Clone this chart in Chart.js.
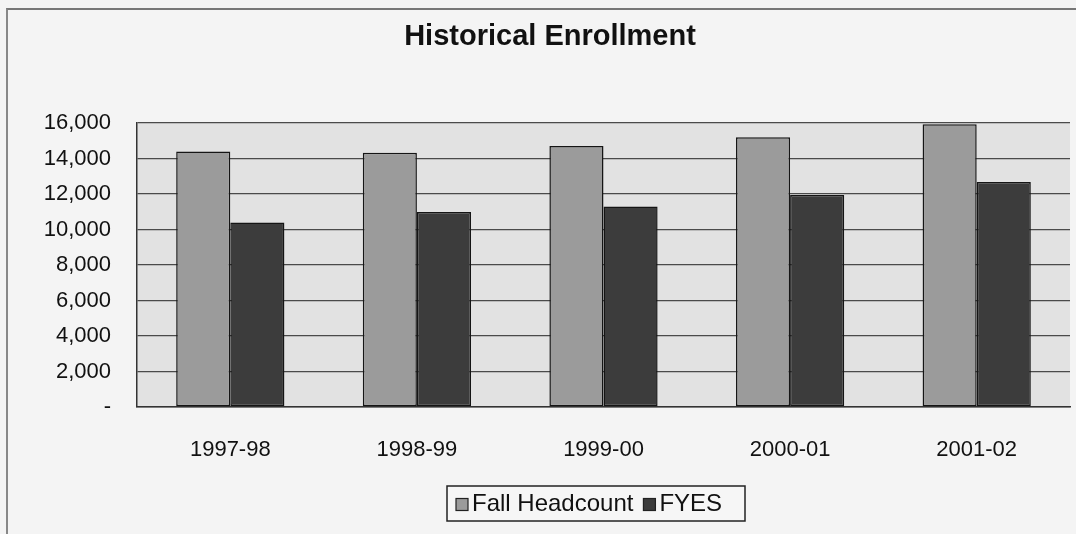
<!DOCTYPE html>
<html>
<head>
<meta charset="utf-8">
<script src="https://cdn.jsdelivr.net/npm/chart.js@4.4.1/dist/chart.umd.min.js"></script>
<style>
  html, body { margin: 0; padding: 0; background: #f4f4f4; }
  #wrap { position: relative; width: 1076px; height: 534px; }
  #frame { position: absolute; left: 6px; top: 8px; right: 0; bottom: 0;
           border-top: 2px solid #777; border-left: 2px solid #888; }
  canvas { position: absolute; left: 0; top: 0; }
</style>
</head>
<body>
<div id="wrap">
  <div id="frame"></div>
  <canvas id="enrollChart" width="1076" height="534"></canvas>
</div>
<script>
// data
const years = ['1997-98', '1998-99', '1999-00', '2000-01', '2001-02'];
const fallHeadcount = [14400, 14330, 14700, 15200, 15930];
const fyes = [10400, 10980, 11300, 11950, 12680];
const chartTitle = 'Historical Enrollment';

const fallColor = '#9b9b9b';
const fyesColor = '#3c3c3c';
const fontFam = '"Liberation Sans", Arial, sans-serif';

// plot background + title + boxed legend
const decorPlugin = {
  id: 'decor',
  beforeDraw(chart) {
    const ctx = chart.ctx;
    const a = chart.chartArea;
    ctx.save();
    ctx.fillStyle = '#e2e2e2';
    ctx.fillRect(a.left, a.top, a.right - a.left, a.bottom - a.top);
    ctx.restore();
  },
  afterDraw(chart) {
    const ctx = chart.ctx;
    ctx.save();
    // title
    ctx.fillStyle = '#111';
    ctx.font = 'bold 29px ' + fontFam;
    ctx.textAlign = 'center';
    ctx.textBaseline = 'middle';
    ctx.fillText(chartTitle, 550, 37);

    // legend
    const bx = 447, by = 486, bw = 298, bh = 35;
    ctx.fillStyle = '#f6f6f6';
    ctx.fillRect(bx, by, bw, bh);
    ctx.strokeStyle = '#222';
    ctx.lineWidth = 1.5;
    ctx.strokeRect(bx, by, bw, bh);

    ctx.font = '24px ' + fontFam;
    ctx.textAlign = 'left';
    let x = bx + 9;
    const cy = by + bh / 2 + 1;
    chart.data.datasets.forEach(ds => {
      ctx.fillStyle = ds.backgroundColor;
      ctx.fillRect(x, cy - 6, 12, 12);
      ctx.strokeStyle = '#222';
      ctx.lineWidth = 1.2;
      ctx.strokeRect(x, cy - 6, 12, 12);
      ctx.fillStyle = '#111';
      ctx.fillText(ds.label, x + 16, cy);
      x += 16 + ctx.measureText(ds.label).width + 10;
    });
    ctx.restore();
  }
};

new Chart(document.getElementById('enrollChart').getContext('2d'), {
  type: 'bar',
  data: {
    labels: years,
    datasets: [
      {
        label: 'Fall Headcount',
        data: fallHeadcount,
        backgroundColor: fallColor,
        borderColor: '#151515',
        borderWidth: 1.5,
        borderSkipped: false,
        categoryPercentage: 0.58,
        barPercentage: 1.0
      },
      {
        label: 'FYES',
        data: fyes,
        backgroundColor: fyesColor,
        borderColor: '#151515',
        borderWidth: 1.5,
        borderSkipped: false,
        categoryPercentage: 0.58,
        barPercentage: 1.0
      }
    ]
  },
  options: {
    responsive: false,
    animation: false,
    layout: { padding: { top: 123, right: 6, bottom: 0, left: 0 } },
    plugins: {
      legend: { display: false },
      title: { display: false },
      tooltip: { enabled: false }
    },
    scales: {
      x: {
        grid: { display: false },
        border: { display: true, color: '#333', width: 1.5 },
        ticks: {
          color: '#111',
          padding: 22,
          font: { family: fontFam, size: 22 }
        },
        afterFit(scale) { scale.height = 127; }
      },
      y: {
        min: 0,
        max: 16000,
        grid: { color: '#4a4a4a', lineWidth: 1.3, drawTicks: false },
        border: { display: true, color: '#333', width: 1.5 },
        ticks: {
          stepSize: 2000,
          color: '#111',
          padding: 26,
          font: { family: fontFam, size: 22 },
          callback: function (v) {
            return v === 0 ? '-' : v.toLocaleString('en-US');
          }
        },
        afterFit(scale) { scale.width = 137; }
      }
    }
  },
  plugins: [decorPlugin]
});
</script>
</body>
</html>
